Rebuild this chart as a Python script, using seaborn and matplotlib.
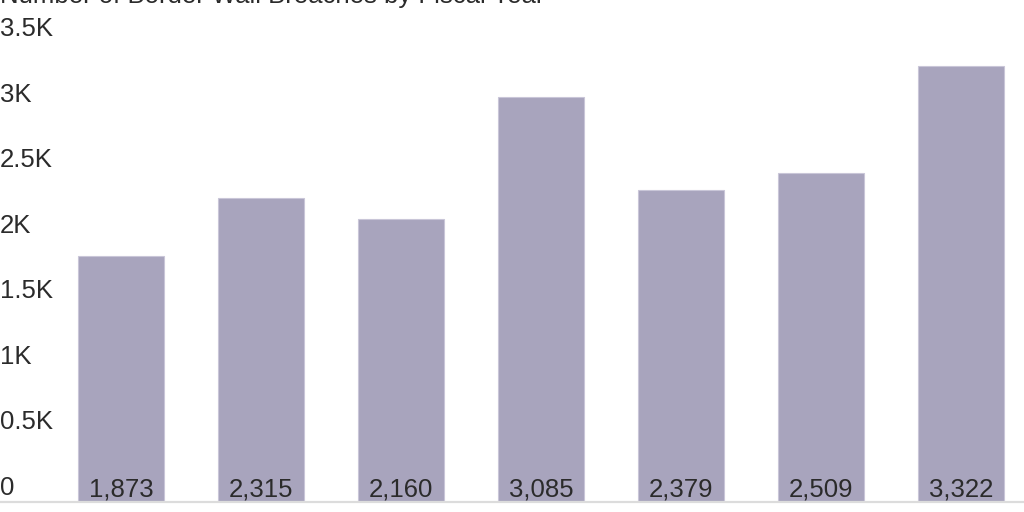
import numpy as np
import pandas as pd
import matplotlib
matplotlib.use("Agg")
import matplotlib.pyplot as plt
import matplotlib.transforms as mtransforms
import seaborn as sns

# fiscal years (tick labels are not shown in the chart)
years = ["2017", "2018", "2019", "2020", "2021", "2022", "2023"]
breaches = [1873, 2315, 2160, 3085, 2379, 2509, 3322]

y_ticks = [0, 500, 1000, 1500, 2000, 2500, 3000, 3500]
y_tick_labels = ["0", "0.5K", "1K", "1.5K", "2K", "2.5K", "3K", "3.5K"]

title = "Number of Border Wall Breaches by Fiscal Year"

sns.set_style("white")
plt.rcParams["font.family"] = ["Liberation Sans", "DejaVu Sans"]

bar_color = "#a8a4bd"
text_color = "#2b2b2b"
fs = 18.5

df = pd.DataFrame({"year": years, "breaches": breaches})

fig = plt.figure(figsize=(10.24, 5.12), dpi=100)
ax = fig.add_axes([0, 10 / 512, 1, 1 - 10 / 512 - 43 / 512])

sns.barplot(data=df, x="year", y="breaches", color=bar_color,
            saturation=1, width=0.614, edgecolor="#c9c6d8",
            linewidth=0.8, ax=ax)

ax.set_xlim(-0.864, 6.45)
ax.set_ylim(0, 3500)
ax.set_xticks([])
ax.set_yticks([])
ax.set_xlabel("")
ax.set_ylabel("")

for side in ["top", "right", "left"]:
    ax.spines[side].set_visible(False)
ax.spines["bottom"].set_color("#dcdcdc")
ax.spines["bottom"].set_linewidth(1.6)

# y tick labels sit just above their value, left aligned
tick_tr = mtransforms.blended_transform_factory(ax.transAxes, ax.transData)
tick_tr = tick_tr + mtransforms.ScaledTranslation(0, 7 / 100, fig.dpi_scale_trans)
for v, lab in zip(y_ticks, y_tick_labels):
    ax.text(0.0, v, lab, transform=tick_tr, ha="left", va="baseline",
            fontsize=fs, color=text_color, clip_on=False)

# value labels at the foot of each bar
lab_tr = ax.transData + mtransforms.ScaledTranslation(0, 5 / 100, fig.dpi_scale_trans)
for i, v in enumerate(breaches):
    ax.text(i, 0, f"{v:,}", transform=lab_tr, ha="center", va="baseline",
            fontsize=fs, color=text_color)

fig.text(0.0, 1 - 3 / 512, title, ha="left", va="baseline",
         fontsize=fs, color=text_color)

fig.savefig("out.png", dpi=100)
